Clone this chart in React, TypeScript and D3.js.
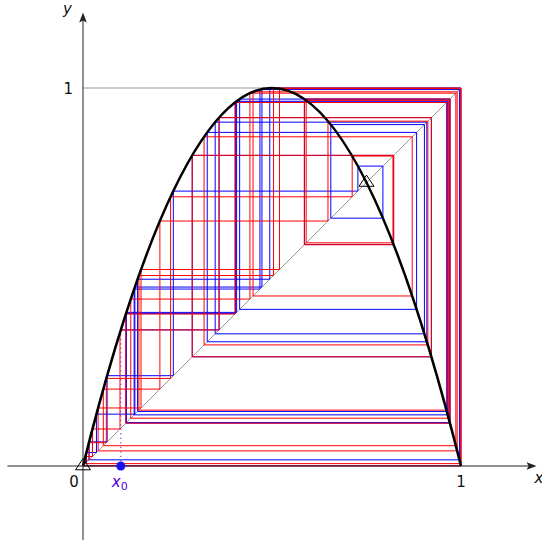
import React from "react";
import * as d3 from "d3";

// Logistic map parameter and starting point
const r = 4;
const x0 = 0.1;

// Orbit starting at x0 = 0.1 (red)
const redOrbit = [
  0.1, 0.36, 0.9216, 0.289, 0.8219, 0.5854, 0.9708, 0.1133, 0.402, 0.9616,
  0.1478, 0.5039, 0.99994, 0.00025, 0.00098, 0.0039, 0.0157, 0.0617, 0.2317, 0.7121,
  0.82, 0.5904, 0.9673, 0.1264, 0.4416, 0.9864, 0.0537, 0.2034, 0.6481, 0.9123,
  0.3203, 0.8709, 0.4498, 0.9899, 0.04, 0.1535, 0.5199, 0.9984, 0.0063, 0.0251,
  0.0979, 0.3533,
];

// Orbit starting at a slightly perturbed x0 (blue)
const blueOrbit = [
  0.10001, 0.36, 0.9216, 0.2889, 0.8217, 0.586, 0.9704, 0.1148, 0.4064, 0.9649,
  0.1353, 0.4681, 0.9959, 0.0163, 0.0638, 0.2389, 0.7272, 0.7934, 0.6556, 0.9032,
  0.3497, 0.9096, 0.3287, 0.8826, 0.4144, 0.9707, 0.1137, 0.4032, 0.9625, 0.1444,
  0.4941, 0.9999, 0.0006, 0.0022, 0.009, 0.0356, 0.1372, 0.4734, 0.9972,
];

// Fixed points of the map
const fixedPoints = [0, 0.75];

const tickLabels = ["0", "1"];

const W = 542;
const H = 540;

const x = d3.scaleLinear().domain([0, 1]).range([83, 461]);
const y = d3.scaleLinear().domain([0, 1]).range([466, 88]);

function cobwebPath(orbit: number[]) {
  const p = d3.path();
  p.moveTo(x(orbit[0]), y(orbit[1]));
  for (let i = 1; i < orbit.length - 1; i++) {
    p.lineTo(x(orbit[i]), y(orbit[i]));
    p.lineTo(x(orbit[i]), y(orbit[i + 1]));
  }
  return p.toString();
}

function parabolaPath() {
  // y = r x (1 - x) is exactly a quadratic Bezier with control point (0.5, r/2)
  const p = d3.path();
  p.moveTo(x(0), y(0));
  p.quadraticCurveTo(x(0.5), y(r / 2), x(1), y(0));
  return p.toString();
}

function triangle(cx: number, cy: number) {
  return `M${cx - 7.5},${cy + 3.8} L${cx},${cy - 7.4} L${cx + 7.5},${cy + 3.8} Z`;
}

export default function App() {
  const font = "'DejaVu Sans', sans-serif";
  const axisColor = "#222";
  const xMin = x(-0.2);
  const xMax = x(1.2);
  const yMin = y(-0.2);
  const yMax = y(1.2);
  const firstImage = redOrbit[1];
  return (
    <svg
      width={W}
      height={H}
      style={{ position: "absolute", left: 0, top: 0, background: "#fff" }}
      fontFamily={font}
    >
      {/* reference lines: y = 1 and the diagonal y = x */}
      <line x1={x(0)} y1={y(1)} x2={x(1)} y2={y(1)} stroke="#9a9a9a" strokeWidth={1} />
      <line x1={x(0)} y1={y(0)} x2={x(1)} y2={y(1)} stroke="#9a9a9a" strokeWidth={1} />

      {/* cobweb orbits */}
      <path d={cobwebPath(blueOrbit)} fill="none" stroke="#0000ff" strokeWidth={1} />
      <path d={cobwebPath(redOrbit)} fill="none" stroke="#ff0000" strokeWidth={1} />

      {/* initial step from x0 up to the curve */}
      <line
        x1={x(x0)}
        y1={y(0)}
        x2={x(x0)}
        y2={y(firstImage)}
        stroke="#8a3fc8"
        strokeWidth={1.2}
        strokeDasharray="1.2 3.3"
      />

      {/* the map f(x) = r x (1 - x) */}
      <path d={parabolaPath()} fill="none" stroke="#000" strokeWidth={2.6} />

      {/* axes */}
      <line x1={xMin} y1={y(0)} x2={xMax - 6} y2={y(0)} stroke={axisColor} strokeWidth={1} />
      <path d={`M${xMax},${y(0)} L${xMax - 10},${y(0) - 3.8} L${xMax - 8},${y(0)} L${xMax - 10},${y(0) + 3.8} Z`} fill={axisColor} />
      <line x1={x(0)} y1={yMin} x2={x(0)} y2={yMax + 6} stroke={axisColor} strokeWidth={1} />
      <path d={`M${x(0)},${yMax} L${x(0) - 3.8},${yMax + 10} L${x(0)},${yMax + 8} L${x(0) + 3.8},${yMax + 10} Z`} fill={axisColor} />

      {/* fixed points */}
      {fixedPoints.map((p) => (
        <path key={p} d={triangle(x(p), y(p))} fill="none" stroke="#000" strokeWidth={1} />
      ))}

      {/* x0 marker */}
      <circle cx={x(x0)} cy={y(0)} r={4.5} fill="#1414f0" />

      {/* labels */}
      <text x={xMax - 2} y={y(0) + 17} fontSize={15} fontStyle="italic" fill="#111">x</text>
      <text x={x(0) - 20} y={yMax + 2} fontSize={15} fontStyle="italic" fill="#111">y</text>
      <text x={x(0) - 9} y={y(0) + 21} fontSize={15} textAnchor="middle" fill="#111">{tickLabels[0]}</text>
      <text x={x(1)} y={y(0) + 21} fontSize={15} textAnchor="middle" fill="#111">{tickLabels[1]}</text>
      <text x={x(0) - 10} y={y(1) + 5.5} fontSize={15} textAnchor="end" fill="#111">{tickLabels[1]}</text>
      <text x={x(x0) - 9} y={y(0) + 21} fontSize={15} fontStyle="italic" fill="#5000d8">
        x<tspan fontSize={11} fontStyle="normal" dy={3}>0</tspan>
      </text>
    </svg>
  );
}
